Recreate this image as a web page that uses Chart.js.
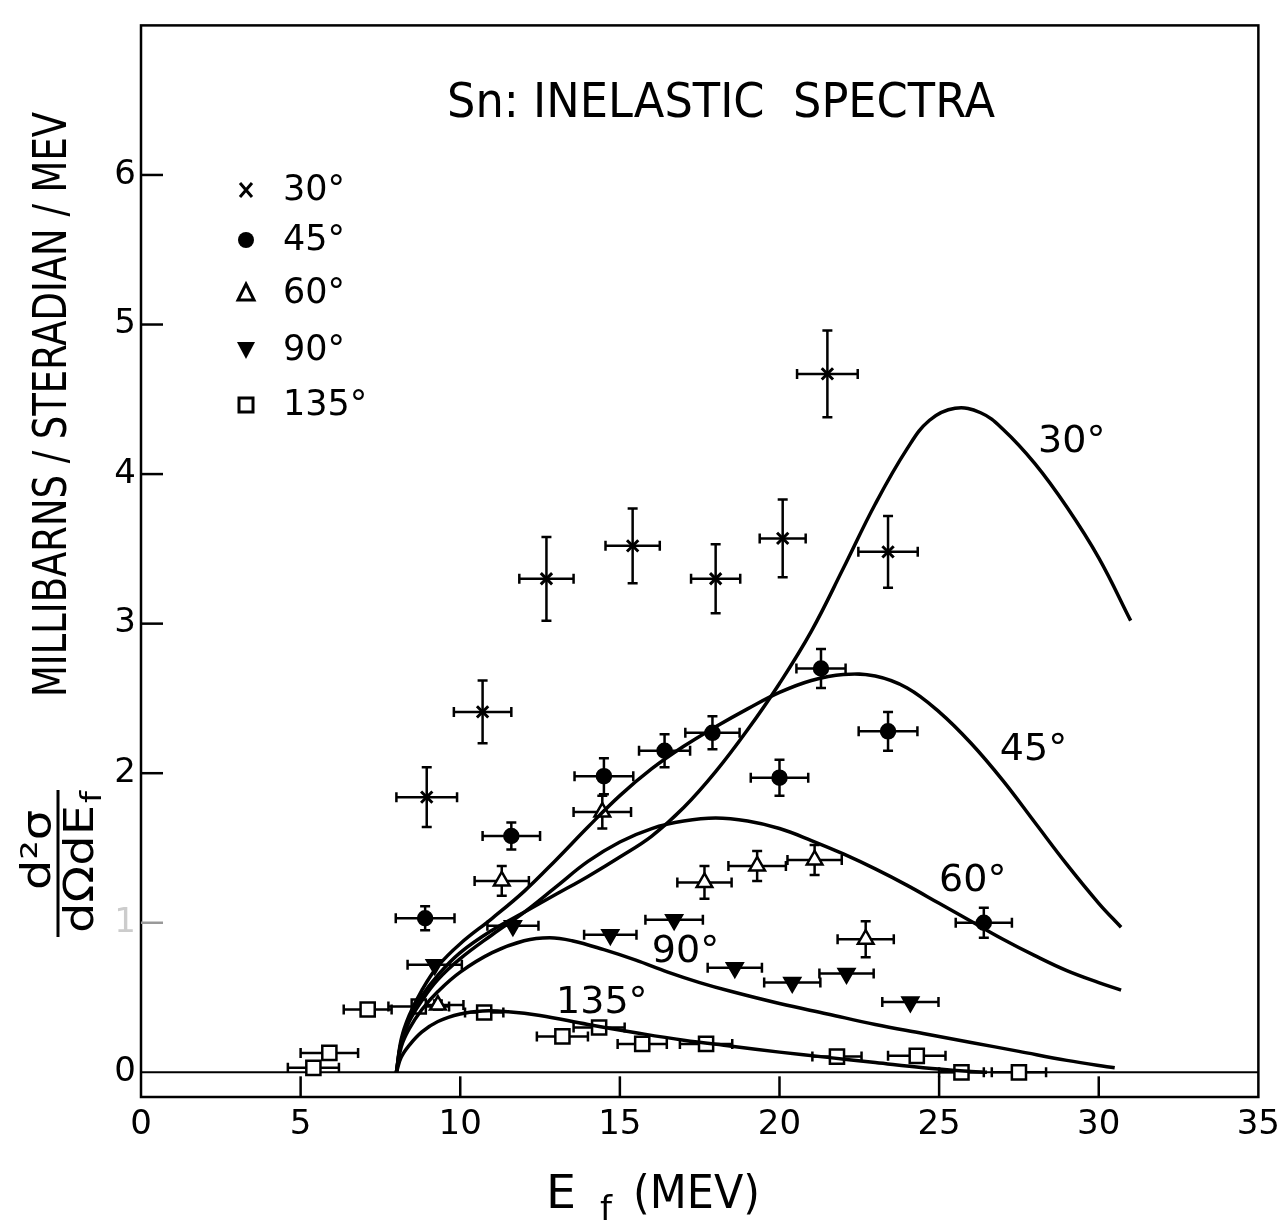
<!DOCTYPE html>
<html>
<head>
<meta charset="utf-8">
<script src="https://cdn.jsdelivr.net/npm/chart.js@4.4.0/dist/chart.umd.min.js"></script>
<style>
  html, body { margin: 0; padding: 0; background: #fff; }
  canvas { display: block; }
</style>
</head>
<body>
<canvas id="spectra" width="1288" height="1221"></canvas>
<script>
// axis ticks
var xTicks = [0, 5, 10, 15, 20, 25, 30, 35];
var yTicks = [0, 1, 2, 3, 4, 5, 6];
var legendLabels = ['30°', '45°', '60°', '90°', '135°'];

// measured points (E_f, cross section) with error half-widths
var pts30X  = [8.95, 10.7, 12.7, 15.4, 18.0, 20.1, 21.5, 23.4];
var pts30Y  = [1.84, 2.41, 3.30, 3.52, 3.30, 3.57, 4.67, 3.48];
var pts30DX = [0.95, 0.90, 0.85, 0.85, 0.77, 0.72, 0.95, 0.93];
var pts30DY = [0.20, 0.21, 0.28, 0.25, 0.23, 0.26, 0.29, 0.24];

var pts45X  = [8.9, 11.6, 14.5, 16.4, 17.9, 20.0, 21.3, 23.4, 26.4];
var pts45Y  = [1.03, 1.58, 1.98, 2.15, 2.27, 1.97, 2.70, 2.28, 1.00];
var pts45DX = [0.92, 0.90, 0.92, 0.80, 0.85, 0.90, 0.77, 0.92, 0.88];
var pts45DY = [0.08, 0.09, 0.12, 0.11, 0.11, 0.12, 0.13, 0.13, 0.10];

var pts60X  = [9.3, 11.3, 14.45, 17.65, 19.3, 21.1, 22.7];
var pts60Y  = [0.45, 1.28, 1.74, 1.27, 1.38, 1.42, 0.89];
var pts60DX = [0.80, 0.85, 0.90, 0.85, 0.90, 0.85, 0.88];
var pts60DY = [0.03, 0.10, 0.11, 0.11, 0.10, 0.10, 0.12];

var pts90X  = [9.2, 11.65, 14.7, 16.7, 18.6, 20.4, 22.1, 24.1];
var pts90Y  = [0.72, 0.98, 0.92, 1.02, 0.70, 0.60, 0.66, 0.47];
var pts90DX = [0.85, 0.80, 0.82, 0.90, 0.85, 0.88, 0.85, 0.88];
var pts90DY = [0, 0, 0, 0, 0, 0, 0, 0];

var pts135X  = [5.4, 5.9, 7.1, 8.7, 10.75, 13.2, 14.35, 15.7, 17.7, 21.8, 24.3, 25.7, 27.5];
var pts135Y  = [0.03, 0.13, 0.42, 0.44, 0.40, 0.24, 0.30, 0.19, 0.19, 0.105, 0.11, 0.0, 0.0];
var pts135DX = [0.80, 0.90, 0.75, 0.95, 0.60, 0.80, 0.80, 0.77, 0.82, 0.77, 0.90, 0.70, 0.85];
var pts135DY = [0, 0, 0, 0, 0, 0, 0, 0, 0, 0, 0, 0, 0];

// calculated curves
var c30X = [8.0, 8.15, 8.4, 8.8, 9.3, 10, 11, 12, 13, 14, 15, 16, 17, 18, 19, 20, 21, 22, 23, 24, 24.7, 25.5, 26.3, 27, 28, 29, 30, 31];
var c30Y = [0, 0.2, 0.35, 0.51, 0.65, 0.8, 0.95, 1.07, 1.19, 1.31, 1.44, 1.58, 1.77, 2.01, 2.29, 2.6, 2.95, 3.37, 3.8, 4.17, 4.36, 4.44, 4.41, 4.3, 4.07, 3.78, 3.44, 3.02];

var c45X = [8.0, 8.15, 8.4, 8.8, 9.3, 10, 11, 12, 13, 14, 15, 16, 17, 18, 19, 20, 21, 22, 23, 24, 25, 26, 27, 28, 29, 30, 30.7];
var c45Y = [0, 0.22, 0.38, 0.55, 0.71, 0.86, 1.03, 1.21, 1.42, 1.64, 1.85, 2.03, 2.18, 2.31, 2.43, 2.54, 2.62, 2.66, 2.65, 2.57, 2.41, 2.2, 1.95, 1.67, 1.39, 1.13, 0.97];

var c60X = [8.0, 8.15, 8.4, 8.8, 9.3, 10, 11, 12, 13, 14, 15, 16, 17, 18, 19, 20, 21, 22, 23, 24, 25, 26, 27, 28, 29, 30, 30.7];
var c60Y = [0, 0.2, 0.34, 0.48, 0.62, 0.76, 0.92, 1.07, 1.24, 1.41, 1.54, 1.63, 1.68, 1.7, 1.68, 1.63, 1.55, 1.46, 1.36, 1.25, 1.13, 1.01, 0.89, 0.78, 0.68, 0.6, 0.55];

var c90X = [8.0, 8.15, 8.4, 8.8, 9.3, 10, 11, 12, 12.8, 13.5, 14.5, 15.5, 16.5, 17.5, 18.5, 20, 21.5, 23, 24.5, 26, 27.5, 29, 30.5];
var c90Y = [0, 0.17, 0.29, 0.42, 0.54, 0.67, 0.8, 0.88, 0.9, 0.88, 0.82, 0.75, 0.67, 0.6, 0.54, 0.46, 0.39, 0.32, 0.26, 0.2, 0.14, 0.08, 0.03];

var c135X = [8.0, 8.15, 8.4, 8.8, 9.3, 10, 10.7, 11.5, 12.5, 14, 15.5, 17, 18.5, 20, 21.5, 23, 24.5, 26, 26.5];
var c135Y = [0, 0.1, 0.18, 0.27, 0.34, 0.39, 0.41, 0.405, 0.38, 0.32, 0.265, 0.215, 0.175, 0.135, 0.1, 0.065, 0.03, 0.005, 0];

var FONT = '"DejaVu Sans", sans-serif';

function zip(xs, ys) {
  return xs.map(function (x, i) { return { x: x, y: ys[i] }; });
}

function curve(xs, ys) {
  return {
    data: zip(xs, ys),
    showLine: true,
    borderColor: '#000',
    borderWidth: 3.5,
    pointRadius: 0,
    tension: 0.4,
    fill: false
  };
}

function points(xs, ys, dx, dy, style) {
  return Object.assign({
    data: zip(xs, ys),
    showLine: false,
    errX: dx,
    errY: dy,
    borderColor: '#000',
    pointBackgroundColor: '#000',
    pointBorderWidth: 2.5
  }, style);
}

var markerStyles = [
  { pointStyle: 'crossRot', pointRadius: 8, pointBorderWidth: 3 },
  { pointStyle: 'circle', pointRadius: 7 },
  { pointStyle: 'triangle', pointRadius: 9, pointBackgroundColor: '#fff' },
  { pointStyle: 'triangle', pointRadius: 9, pointRotation: 180 },
  { pointStyle: 'rect', pointRadius: 10, pointBackgroundColor: '#fff' }
];

// draw frame, zero line, inward tick marks and error bars
var framePlugin = {
  id: 'frame',
  beforeDatasetsDraw: function (chart) {
    var ctx = chart.ctx, a = chart.chartArea;
    var xs = chart.scales.x, ys = chart.scales.y;
    ctx.save();
    ctx.strokeStyle = '#000';
    ctx.lineWidth = 2.5;
    ctx.strokeRect(a.left, a.top, a.right - a.left, a.bottom - a.top);
    var y0 = ys.getPixelForValue(0);
    ctx.lineWidth = 2;
    ctx.beginPath();
    ctx.moveTo(a.left, y0);
    ctx.lineTo(a.right, y0);
    ctx.stroke();
    ctx.lineWidth = 2.5;
    xTicks.forEach(function (v) {
      if (v === 0 || v === 35) return;
      var px = xs.getPixelForValue(v);
      ctx.beginPath();
      ctx.moveTo(px, a.bottom);
      ctx.lineTo(px, y0 + 4);
      ctx.stroke();
    });
    yTicks.forEach(function (v) {
      if (v === 0) return;
      var py = ys.getPixelForValue(v);
      ctx.strokeStyle = v === 1 ? '#999' : '#000';
      ctx.beginPath();
      ctx.moveTo(a.left, py);
      ctx.lineTo(a.left + 22, py);
      ctx.stroke();
    });
    ctx.restore();

    ctx.save();
    ctx.strokeStyle = '#000';
    ctx.lineWidth = 2.5;
    chart.data.datasets.forEach(function (ds) {
      if (!ds.errX) return;
      ds.data.forEach(function (p, j) {
        var dx = ds.errX[j], dy = ds.errY[j];
        var cx = xs.getPixelForValue(p.x), cy = ys.getPixelForValue(p.y);
        var l = xs.getPixelForValue(p.x - dx), r = xs.getPixelForValue(p.x + dx);
        ctx.beginPath();
        ctx.moveTo(l, cy); ctx.lineTo(r, cy);
        ctx.moveTo(l, cy - 5); ctx.lineTo(l, cy + 5);
        ctx.moveTo(r, cy - 5); ctx.lineTo(r, cy + 5);
        if (dy > 0) {
          var t = ys.getPixelForValue(p.y + dy), b = ys.getPixelForValue(p.y - dy);
          ctx.moveTo(cx, t); ctx.lineTo(cx, b);
          ctx.moveTo(cx - 5, t); ctx.lineTo(cx + 5, t);
          ctx.moveTo(cx - 5, b); ctx.lineTo(cx + 5, b);
        }
        ctx.stroke();
      });
    });
    ctx.restore();
  }
};

function fitText(ctx, txt, x, y, w, size) {
  ctx.font = size + 'px ' + FONT;
  var m = ctx.measureText(txt).width;
  ctx.save();
  ctx.translate(x, y);
  ctx.scale(w / m, 1);
  ctx.textAlign = 'left';
  ctx.textBaseline = 'alphabetic';
  ctx.fillText(txt, 0, 0);
  ctx.restore();
}

function drawMarker(ctx, i, x, y) {
  ctx.save();
  ctx.strokeStyle = '#000';
  ctx.fillStyle = '#000';
  ctx.lineWidth = 3;
  ctx.beginPath();
  if (i === 0) {
    ctx.moveTo(x - 6, y - 7); ctx.lineTo(x + 6, y + 7);
    ctx.moveTo(x + 6, y - 7); ctx.lineTo(x - 6, y + 7);
    ctx.stroke();
  } else if (i === 1) {
    ctx.arc(x, y, 8, 0, Math.PI * 2);
    ctx.fill();
  } else if (i === 2) {
    ctx.moveTo(x, y - 9); ctx.lineTo(x + 8, y + 7); ctx.lineTo(x - 8, y + 7); ctx.closePath();
    ctx.stroke();
  } else if (i === 3) {
    ctx.moveTo(x - 9, y - 8); ctx.lineTo(x + 9, y - 8); ctx.lineTo(x, y + 9); ctx.closePath();
    ctx.fill();
  } else {
    ctx.strokeRect(x - 7, y - 7, 14, 14);
  }
  ctx.restore();
}

var textPlugin = {
  id: 'texts',
  afterDraw: function (chart) {
    var ctx = chart.ctx;
    var xs = chart.scales.x, ys = chart.scales.y;
    ctx.save();
    ctx.fillStyle = '#000';

    // title
    fitText(ctx, 'Sn: INELASTIC  SPECTRA', 447, 117, 548, 48);

    // legend
    var rows = [190, 240, 293, 350, 405];
    legendLabels.forEach(function (lab, i) {
      drawMarker(ctx, i, 246, rows[i]);
      ctx.font = '35px ' + FONT;
      ctx.textBaseline = 'middle';
      ctx.fillText(lab, 283, rows[i] + 1);
    });

    // curve labels placed in data units
    var curveLabels = [
      ['30°', 28.1, 4.145], ['45°', 26.9, 2.085], ['60°', 25.0, 1.21],
      ['90°', 16.0, 0.737], ['135°', 13.0, 0.395]
    ];
    ctx.textBaseline = 'alphabetic';
    ctx.font = '38px ' + FONT;
    curveLabels.forEach(function (c) {
      ctx.fillText(c[0], xs.getPixelForValue(c[1]), ys.getPixelForValue(c[2]));
    });

    // x axis title
    fitText(ctx, 'E', 546, 1208, 30, 46);
    fitText(ctx, 'f', 600, 1220, 12, 34);
    fitText(ctx, '(MEV)', 633, 1208, 127, 46);

    // y axis title, rotated
    ctx.save();
    ctx.translate(66, 697);
    ctx.rotate(-Math.PI / 2);
    fitText(ctx, 'MILLIBARNS / STERADIAN / MEV', 0, 0, 585, 46);
    ctx.restore();

    // fraction d2sigma / dOmega dE_f
    ctx.save();
    ctx.translate(50, 890);
    ctx.rotate(-Math.PI / 2);
    fitText(ctx, 'd²σ', 0, 0, 80, 40);
    ctx.restore();
    ctx.save();
    ctx.strokeStyle = '#000';
    ctx.lineWidth = 3;
    ctx.beginPath();
    ctx.moveTo(58, 937);
    ctx.lineTo(58, 790);
    ctx.stroke();
    ctx.restore();
    ctx.save();
    ctx.translate(93, 933);
    ctx.rotate(-Math.PI / 2);
    fitText(ctx, 'dΩdE', 0, 0, 128, 40);
    fitText(ctx, 'f', 130, 8, 12, 28);
    ctx.restore();

    ctx.restore();
  }
};

var datasets = [
  curve(c30X, c30Y), curve(c45X, c45Y), curve(c60X, c60Y), curve(c90X, c90Y), curve(c135X, c135Y),
  points(pts30X, pts30Y, pts30DX, pts30DY, markerStyles[0]),
  points(pts45X, pts45Y, pts45DX, pts45DY, markerStyles[1]),
  points(pts60X, pts60Y, pts60DX, pts60DY, markerStyles[2]),
  points(pts90X, pts90Y, pts90DX, pts90DY, markerStyles[3]),
  points(pts135X, pts135Y, pts135DX, pts135DY, markerStyles[4])
];

new Chart(document.getElementById('spectra'), {
  type: 'scatter',
  data: { datasets: datasets },
  options: {
    responsive: false,
    animation: false,
    devicePixelRatio: 1,
    layout: { padding: { top: 11, right: 20, left: 0, bottom: 0 } },
    plugins: { legend: { display: false }, tooltip: { enabled: false } },
    scales: {
      x: {
        type: 'linear', min: 0, max: 35,
        afterBuildTicks: function (s) { s.ticks = xTicks.map(function (v) { return { value: v }; }); },
        afterFit: function (s) { s.height = 124; },
        grid: { display: false, drawTicks: false },
        border: { display: false },
        ticks: { color: '#000', padding: 8, font: { family: FONT, size: 34 }, maxRotation: 0 }
      },
      y: {
        type: 'linear', min: -0.165, max: 7,
        afterBuildTicks: function (s) { s.ticks = yTicks.map(function (v) { return { value: v }; }); },
        afterFit: function (s) { s.width = 141; },
        grid: { display: false, drawTicks: false },
        border: { display: false },
        ticks: {
          padding: 5,
          font: { family: FONT, size: 34 },
          color: function (c) { return c.tick && c.tick.value === 1 ? '#ccc' : '#000'; }
        }
      }
    }
  },
  plugins: [framePlugin, textPlugin]
});
</script>
</body>
</html>
